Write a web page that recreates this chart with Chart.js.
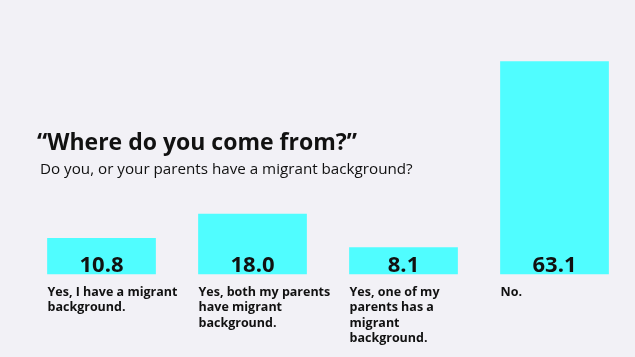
<!DOCTYPE html>
<html>
<head>
<meta charset="utf-8">
<script src="https://cdn.jsdelivr.net/npm/chart.js@4/dist/chart.umd.min.js"></script>
<style>
  html, body { margin: 0; padding: 0; background: #f2f1f6; }
  #wrap { width: 635px; height: 357px; }
</style>
</head>
<body>
<div id="wrap"><canvas id="migrantChart"></canvas></div>
<script>
const categories = [
    ['Yes, I have a migrant', 'background.'],
    ['Yes, both my parents', 'have migrant', 'background.'],
    ['Yes, one of my', 'parents has a', 'migrant', 'background.'],
    ['No.']
];
const shares = [10.8, 18.0, 8.1, 63.1];
const titleText = '\u201cWhere do you come from?\u201d';
const subtitleText = 'Do you, or your parents have a migrant background?';

const overlayText = {
    id: 'overlayText',
    afterDatasetsDraw(chart) {
        const ctx = chart.ctx;
        ctx.save();
        ctx.fillStyle = '#111111';
        ctx.textAlign = 'center';
        ctx.textBaseline = 'alphabetic';
        ctx.font = 'bold 22px "Open Sans"';
        chart.getDatasetMeta(0).data.forEach((bar, i) => {
            ctx.fillText(shares[i].toFixed(1), bar.x, bar.base - 3);
        });
        ctx.textAlign = 'left';
        ctx.font = 'bold 23px "Open Sans"';
        ctx.fillText(titleText, 37, 150);
        ctx.font = '15.2px "Open Sans"';
        ctx.fillText(subtitleText, 40, 174);
        ctx.restore();
    }
};

const ctx = document.getElementById('migrantChart').getContext('2d');
const chart = new Chart(ctx, {
    type: 'bar',
    data: {
        labels: categories,
        datasets: [{
            data: shares,
            backgroundColor: '#50fdff',
            borderWidth: 0,
            categoryPercentage: 0.72,
            barPercentage: 1.0
        }]
    },
    options: {
        responsive: true,
        maintainAspectRatio: false,
        animation: { duration: 0 },
        layout: {
            padding: { top: 38, left: 26, right: 5, bottom: 1 }
        },
        scales: {
            x: {
                grid: { display: false, drawTicks: false },
                border: { display: false },
                ticks: {
                    align: 'start',
                    labelOffset: -54,
                    padding: 10,
                    color: '#111111',
                    font: { family: 'Open Sans', weight: 'bold', size: 12.5, lineHeight: 1.23 }
                }
            },
            y: {
                display: false,
                min: 0,
                max: 70
            }
        },
        plugins: {
            legend: { display: false },
            tooltip: { enabled: false }
        }
    },
    plugins: [overlayText]
});
</script>
</body>
</html>
